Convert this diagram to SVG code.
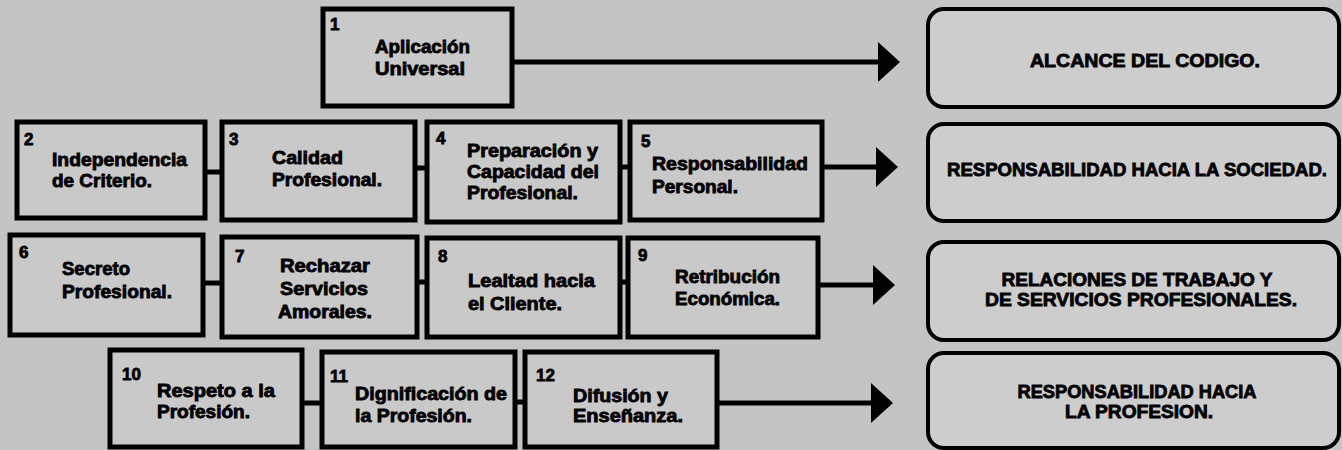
<svg xmlns="http://www.w3.org/2000/svg" width="1342" height="450" viewBox="0 0 1342 450">
<defs>
<style>
.bg{fill:#c4c4c4}
.box{fill:#c9c9c9;stroke:#000;stroke-width:5}
.rbox{fill:#cdcdcd;stroke:#000;stroke-width:4}
.t{font-family:"Liberation Sans",Arial,sans-serif;font-weight:bold;font-size:17.5px;fill:#000;stroke:#000;stroke-width:0.8}
.n{font-family:"Liberation Sans",Arial,sans-serif;font-weight:bold;font-size:17px;fill:#000;stroke:#000;stroke-width:0.8}
.r{font-family:"Liberation Sans",Arial,sans-serif;font-weight:bold;font-size:18px;fill:#000;stroke:#000;stroke-width:0.8;text-anchor:middle}
.c{stroke:#000;stroke-width:5;fill:none}
.a{stroke:#000;stroke-width:5;fill:none;marker-end:url(#ah)}
</style>
<marker id="ah" viewBox="0 0 22 40" markerWidth="22" markerHeight="40" refX="12" refY="20" orient="auto" markerUnits="userSpaceOnUse">
<path d="M0,0 L22,20 L0,40 Z" fill="#000"/>
</marker>
</defs>
<rect class="bg" x="0" y="0" width="1342" height="450"/>

<g id="connectors">
<line class="a" x1="512" y1="62" x2="890" y2="62"/>
<line class="c" x1="205" y1="172" x2="222" y2="172"/>
<line class="c" x1="415" y1="168" x2="427" y2="168"/>
<line class="c" x1="620" y1="167" x2="630" y2="167"/>
<line class="a" x1="822" y1="167" x2="888" y2="167"/>
<line class="c" x1="203" y1="283" x2="222" y2="283"/>
<line class="c" x1="417" y1="282" x2="427" y2="282"/>
<line class="c" x1="620" y1="282" x2="628" y2="282"/>
<line class="a" x1="818" y1="285" x2="885" y2="285"/>
<line class="c" x1="302" y1="403" x2="322" y2="403"/>
<line class="c" x1="515" y1="402" x2="525" y2="402"/>
<line class="a" x1="717" y1="403" x2="883" y2="403"/>
</g>

<g id="node1">
<rect class="box" x="323" y="9" width="189" height="97"/>
<text class="n" x="330" y="30">1</text>
<text class="t" x="375" y="53" textLength="95" lengthAdjust="spacingAndGlyphs">Aplicación</text>
<text class="t" x="375" y="75" textLength="90" lengthAdjust="spacingAndGlyphs">Universal</text>
</g>

<g id="node2">
<rect class="box" x="17" y="122" width="188" height="96"/>
<text class="n" x="24" y="145">2</text>
<text class="t" x="52" y="166" textLength="135" lengthAdjust="spacingAndGlyphs">Independencia</text>
<text class="t" x="52" y="187" textLength="100" lengthAdjust="spacingAndGlyphs">de Criterio.</text>
</g>
<g id="node3">
<rect class="box" x="222" y="122" width="193" height="98"/>
<text class="n" x="229" y="145">3</text>
<text class="t" x="272" y="164" textLength="71" lengthAdjust="spacingAndGlyphs">Calidad</text>
<text class="t" x="272" y="186" textLength="110" lengthAdjust="spacingAndGlyphs">Profesional.</text>
</g>
<g id="node4">
<rect class="box" x="427" y="122" width="193" height="100"/>
<text class="n" x="436" y="144">4</text>
<text class="t" x="467" y="157" textLength="131" lengthAdjust="spacingAndGlyphs">Preparación y</text>
<text class="t" x="467" y="178" textLength="132" lengthAdjust="spacingAndGlyphs">Capacidad del</text>
<text class="t" x="467" y="199" textLength="111" lengthAdjust="spacingAndGlyphs">Profesional.</text>
</g>
<g id="node5">
<rect class="box" x="630" y="122" width="192" height="98"/>
<text class="n" x="641" y="147">5</text>
<text class="t" x="652" y="170" textLength="156" lengthAdjust="spacingAndGlyphs">Responsabilidad</text>
<text class="t" x="652" y="193" textLength="86" lengthAdjust="spacingAndGlyphs">Personal.</text>
</g>

<g id="node6">
<rect class="box" x="10" y="235" width="193" height="100"/>
<text class="n" x="19" y="258">6</text>
<text class="t" x="62" y="275" textLength="68" lengthAdjust="spacingAndGlyphs">Secreto</text>
<text class="t" x="62" y="298" textLength="110" lengthAdjust="spacingAndGlyphs">Profesional.</text>
</g>
<g id="node7">
<rect class="box" x="222" y="237" width="195" height="100"/>
<text class="n" x="235" y="262">7</text>
<text class="t" x="280" y="272" textLength="90" lengthAdjust="spacingAndGlyphs">Rechazar</text>
<text class="t" x="280" y="295" textLength="88" lengthAdjust="spacingAndGlyphs">Servicios</text>
<text class="t" x="278" y="318" textLength="94" lengthAdjust="spacingAndGlyphs">Amorales.</text>
</g>
<g id="node8">
<rect class="box" x="427" y="238" width="193" height="99"/>
<text class="n" x="438" y="262">8</text>
<text class="t" x="468" y="287" textLength="127" lengthAdjust="spacingAndGlyphs">Lealtad hacia</text>
<text class="t" x="468" y="310" textLength="94" lengthAdjust="spacingAndGlyphs">el Cliente.</text>
</g>
<g id="node9">
<rect class="box" x="628" y="238" width="190" height="99"/>
<text class="n" x="638" y="261">9</text>
<text class="t" x="675" y="283" textLength="105" lengthAdjust="spacingAndGlyphs">Retribución</text>
<text class="t" x="675" y="305" textLength="105" lengthAdjust="spacingAndGlyphs">Económica.</text>
</g>

<g id="node10">
<rect class="box" x="110" y="350" width="192" height="97"/>
<text class="n" x="122" y="380">10</text>
<text class="t" x="157" y="397" textLength="118" lengthAdjust="spacingAndGlyphs">Respeto a la</text>
<text class="t" x="157" y="418" textLength="93" lengthAdjust="spacingAndGlyphs">Profesión.</text>
</g>
<g id="node11">
<rect class="box" x="322" y="352" width="193" height="95"/>
<text class="n" x="330" y="382">11</text>
<text class="t" x="355" y="400" textLength="152" lengthAdjust="spacingAndGlyphs">Dignificación de</text>
<text class="t" x="355" y="422" textLength="117" lengthAdjust="spacingAndGlyphs">la Profesión.</text>
</g>
<g id="node12">
<rect class="box" x="525" y="352" width="192" height="95"/>
<text class="n" x="536" y="381">12</text>
<text class="t" x="573" y="402" textLength="95" lengthAdjust="spacingAndGlyphs">Difusión y</text>
<text class="t" x="573" y="422" textLength="110" lengthAdjust="spacingAndGlyphs">Enseñanza.</text>
</g>

<g id="res1">
<rect class="rbox" x="928" y="9" width="411" height="98" rx="16"/>
<text class="r" x="1145" y="67" textLength="230" lengthAdjust="spacingAndGlyphs">ALCANCE DEL CODIGO.</text>
</g>
<g id="res2">
<rect class="rbox" x="928" y="124" width="411" height="97" rx="16"/>
<text class="r" x="1137" y="176" textLength="380" lengthAdjust="spacingAndGlyphs">RESPONSABILIDAD HACIA LA SOCIEDAD.</text>
</g>
<g id="res3">
<rect class="rbox" x="928" y="242" width="411" height="98" rx="16"/>
<text class="r" x="1137" y="286" textLength="271" lengthAdjust="spacingAndGlyphs">RELACIONES DE TRABAJO Y</text>
<text class="r" x="1141" y="306" textLength="312" lengthAdjust="spacingAndGlyphs">DE SERVICIOS PROFESIONALES.</text>
</g>
<g id="res4">
<rect class="rbox" x="928" y="353" width="411" height="95" rx="16"/>
<text class="r" x="1137" y="398" textLength="239" lengthAdjust="spacingAndGlyphs">RESPONSABILIDAD HACIA</text>
<text class="r" x="1139" y="418" textLength="148" lengthAdjust="spacingAndGlyphs">LA PROFESION.</text>
</g>
</svg>
